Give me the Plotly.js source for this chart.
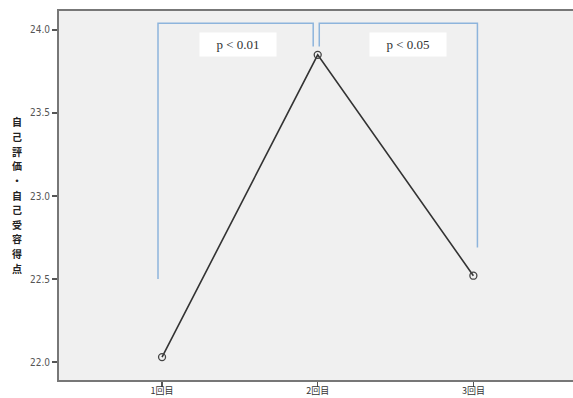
<!DOCTYPE html>
<html><head><meta charset="utf-8">
<script src="https://cdn.plot.ly/plotly-3.0.1.min.js"></script>
<style>html,body{margin:0;padding:0;background:#fff}#c{width:573px;height:398px}</style>
</head><body><div id="c"></div>
<script>
var categories = [1, 2, 3];
var tickLabels = ["1回目", "2回目", "3回目"];
var scores = [22.03, 23.85, 22.52];
var yTitle = "自己評価・自己受容得点";
var bracket1X = [0.974, 0.974, 1.971, 1.971];
var bracket1Y = [22.5, 24.04, 24.04, 23.9];
var bracket2X = [2.01, 2.01, 3.026, 3.026];
var bracket2Y = [23.9, 24.04, 24.04, 22.69];
var pLabels = ["p < 0.01", "p < 0.05"];
var pLabelX = [1.489, 2.579];
var pLabelY = [23.91, 23.91];

var traces = [
  {x: bracket1X, y: bracket1Y, mode: 'lines', line: {color: '#8db4dc', width: 1.5}, hoverinfo: 'skip'},
  {x: bracket2X, y: bracket2Y, mode: 'lines', line: {color: '#8db4dc', width: 1.5}, hoverinfo: 'skip'},
  {x: categories, y: scores, mode: 'lines+markers',
   line: {color: '#333333', width: 1.6},
   marker: {symbol: 'circle-open', size: 7, color: '#444444', line: {width: 1.3, color: '#444444'}}}
];

var annotations = pLabels.map(function(t, i) {
  return {x: pLabelX[i], y: pLabelY[i], xref: 'x', yref: 'y', text: t, showarrow: false,
    bgcolor: '#ffffff', borderpad: 4, width: 68, height: 15,
    font: {family: 'Liberation Serif, serif', size: 13, color: '#333'}};
});
// vertical upright title, one character per annotation
var chars = yTitle.split('');
var plotH = 398 - 11 - 18;
var centerPx = 195, stepPx = 14.6;
chars.forEach(function(c, i) {
  var py = centerPx + (i - (chars.length - 1) / 2) * stepPx; // pixel from top
  annotations.push({x: -0.082, xref: 'x domain', y: 1 - (py - 11) / plotH, yref: 'paper',
    xanchor: 'center', yanchor: 'middle', text: '<b>' + c + '</b>', showarrow: false,
    borderpad: 0,
    font: {family: 'Noto Sans CJK JP', size: 10, color: '#222'}});
});

var layout = {
  width: 573, height: 398,
  margin: {l: 59, r: 0, t: 11, b: 18},
  paper_bgcolor: '#ffffff', plot_bgcolor: '#f0f0f0',
  showlegend: false,
  xaxis: {range: [0.338, 3.64], tickvals: categories, ticktext: tickLabels,
    showgrid: false, zeroline: false, showline: true, mirror: true, linecolor: '#777', linewidth: 2,
    ticks: 'outside', ticklen: 5, tickcolor: '#555', tickwidth: 1.5, ticklabelstandoff: -4,
    tickfont: {family: 'Noto Sans CJK JP', size: 9, color: '#333'}},
  yaxis: {range: [21.892, 24.114], tickvals: [22.0, 22.5, 23.0, 23.5, 24.0],
    ticktext: ['22.0', '22.5', '23.0', '23.5', '24.0'],
    showgrid: false, zeroline: false, showline: true, linecolor: '#777', linewidth: 2,
    ticks: 'outside', ticklen: 5, tickcolor: '#555', tickwidth: 1.5,
    tickfont: {family: 'DejaVu Sans Condensed, Liberation Sans', size: 10, color: '#555'}},
  annotations: annotations
};
Plotly.newPlot('c', traces, layout, {displayModeBar: false, staticPlot: true});
</script></body></html>
